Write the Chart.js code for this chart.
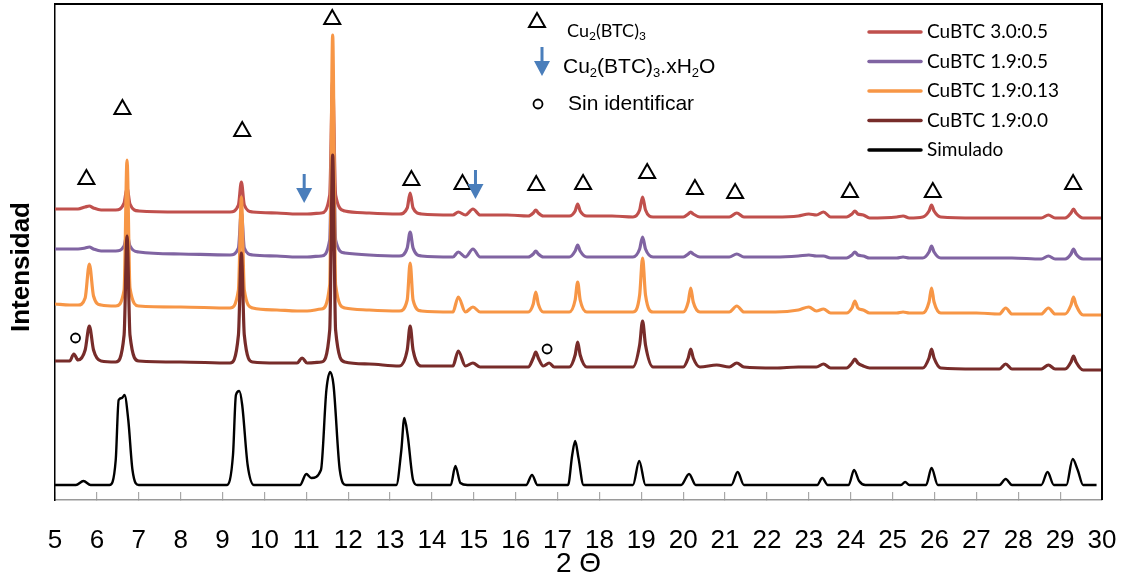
<!DOCTYPE html>
<html>
<head>
<meta charset="utf-8">
<script src="https://cdn.jsdelivr.net/npm/chart.js@4.4.0/dist/chart.umd.min.js"></script>
<style>
  html, body { margin: 0; padding: 0; background: #fff; }
</style>
</head>
<body>
<canvas id="xrd" width="1129" height="575"></canvas>
<script>
'use strict'

// 2 theta grid shared by the four measured patterns
const twoTheta = [
  5.0, 5.35, 5.45, 5.55, 5.72, 5.82, 5.92, 6.1,
  6.45, 6.65, 6.72, 6.79, 7.0, 8.0,
  9.18, 9.38, 9.45, 9.52, 9.72, 10.3,
  10.78, 10.9, 11.02,
  11.36, 11.56, 11.63, 11.7, 11.92, 12.5,
  13.22, 13.41, 13.48, 13.55, 13.75,
  14.5, 14.63, 14.8, 14.98, 15.15, 15.8,
  16.3, 16.42, 16.48, 16.54, 16.66, 16.8, 16.92,
  17.28, 17.42, 17.48, 17.54, 17.7, 18.3,
  18.8, 18.96, 19.03, 19.1, 19.28, 19.7,
  20.0, 20.12, 20.18, 20.24, 20.4, 20.8, 21.1, 21.28, 21.45,
  22.2, 22.75, 23.0, 23.18, 23.35, 23.52,
  23.9, 24.03, 24.1, 24.17, 24.3, 24.45,
  25.1, 25.25, 25.4, 25.72, 25.87, 25.93, 25.99, 26.15,
  27.0, 27.55, 27.7, 27.85,
  28.55, 28.72, 28.88, 29.12, 29.26, 29.32, 29.38, 29.55, 30.0
]
// intensities (arbitrary units, curves already offset)
const cubtc30_05 = [
  291, 291, 291, 291, 293, 294, 292, 290,
  290, 297, 312, 296, 289, 288,
  288, 295, 318, 295, 288, 287,
  286, 286, 286,
  287, 305, 420, 305, 289, 287,
  286, 292, 307, 292, 286,
  285, 288, 285, 291, 285, 285,
  284, 287, 290, 287, 284, 284, 284,
  284, 289, 296, 289, 284, 284,
  283, 290, 303, 290, 283, 283,
  283, 286, 288, 286, 283, 283, 283, 287, 283,
  283, 284, 286, 285, 288, 283,
  283, 286, 289, 286, 285, 282,
  283, 284, 282, 283, 289, 295, 289, 283,
  282, 282, 282, 282,
  282, 285, 282, 282, 287, 291, 287, 282, 282
]
const cubtc19_05 = [
  251, 251, 251, 251, 252, 253, 251, 249,
  249, 254, 266, 254, 248, 246,
  245, 252, 288, 252, 245, 244,
  243, 243, 243,
  244, 260, 400, 260, 247, 245,
  244, 252, 268, 252, 244,
  243, 248, 243, 251, 243, 243,
  243, 246, 249, 246, 243, 243, 243,
  243, 249, 255, 249, 243, 243,
  243, 251, 263, 251, 243, 243,
  243, 246, 248, 246, 243, 243, 243, 246, 243,
  243, 244, 245, 244, 244, 242,
  242, 245, 248, 245, 244, 242,
  242, 243, 242, 242, 248, 254, 248, 242,
  242, 242, 242, 242,
  241, 244, 241, 241, 246, 251, 246, 241, 241
]
const cubtc19_013 = [
  196, 195, 195, 195, 202, 236, 204, 195,
  194, 210, 340, 212, 194, 193,
  192, 210, 303, 210, 192, 190,
  189, 189, 189,
  191, 215, 465, 215, 192, 190,
  189, 200, 237, 200, 189,
  188, 203, 188, 193, 188, 188,
  188, 196, 208, 196, 188, 188, 188,
  188, 200, 218, 200, 188, 188,
  188, 205, 242, 205, 188, 188,
  188, 198, 212, 198, 188, 188, 188, 194, 188,
  188, 190, 193, 189, 191, 187,
  187, 192, 199, 192, 190, 187,
  187, 188, 187, 187, 198, 212, 198, 187,
  187, 186, 192, 186,
  186, 192, 186, 186, 195, 203, 195, 185, 185
]
const cubtc19_00 = [
  139, 139, 146, 140, 150, 174, 150, 139,
  138, 165, 264, 165, 139, 138,
  137, 165, 247, 165, 138, 137,
  137, 142, 137,
  138, 170, 345, 170, 138, 136,
  134, 150, 174, 150, 134,
  134, 149, 134, 137, 133, 133,
  133, 142, 148, 142, 134, 137, 133,
  133, 145, 158, 145, 133, 133,
  133, 155, 179, 155, 133, 133,
  133, 142, 151, 142, 133, 135, 133, 137, 133,
  132, 133, 133, 133, 136, 132,
  132, 137, 141, 137, 134, 132,
  132, 132, 132, 132, 142, 151, 142, 132,
  131, 131, 136, 131,
  131, 135, 131, 131, 138, 144, 138, 130, 130
]

// simulated pattern
const simTheta = [
  5.0, 5.5, 5.68, 5.85, 6.3, 6.45, 6.52, 6.6, 6.66, 6.75, 6.85, 7.0,
  9.1, 9.25, 9.32, 9.4, 9.47, 9.6, 9.75,
  10.85, 11.0, 11.12, 11.35, 11.48, 11.57, 11.65, 11.8, 11.95,
  13.15, 13.27, 13.34, 13.42, 13.55, 13.65,
  14.45, 14.56, 14.68, 14.85, 16.25, 16.39, 16.52,
  17.25, 17.35, 17.42, 17.5, 17.62, 18.8, 18.95, 19.1,
  19.95, 20.14, 20.3, 21.15, 21.3, 21.45,
  23.2, 23.32, 23.45, 23.95, 24.08, 24.2, 24.35,
  25.2, 25.3, 25.4, 25.8, 25.93, 26.08,
  27.55, 27.7, 27.85, 28.55, 28.7, 28.85,
  29.15, 29.3, 29.42, 29.55, 29.87
]
const simulado = [
  15, 15, 19, 15, 15, 40, 100, 102, 105, 80, 30, 15,
  15, 45, 105, 109, 95, 35, 15,
  15, 26, 22, 30, 110, 128, 115, 30, 15,
  15, 50, 82, 65, 20, 15,
  15, 34, 17, 15, 15, 25, 15,
  15, 45, 59, 42, 15, 15, 39, 15,
  15, 26, 15, 15, 28, 15,
  15, 22, 15, 15, 30, 19, 15,
  15, 18, 15, 15, 32, 15,
  15, 21, 15, 15, 28, 15,
  15, 41, 30, 15, 15
]

// phase markers
const triTheta = [5.75, 6.61, 9.47, 11.62, 13.51, 14.73, 16.49, 17.61, 19.14, 20.28, 21.24, 23.98, 25.96, 29.31]
const triLevel = [323, 393, 371, 483, 322, 318, 317, 318, 329, 313, 309, 310, 310, 318]
const arrowTheta = [10.95, 15.04]
const arrowLevel = [297, 301]
const circTheta = [5.49, 16.75]
const circLevel = [162, 151]

const xMin = 5
const xMax = 30

const toPoints = (xs, ys) => xs.map((x, i) => ({ x: x, y: ys[i] }))
const ARIAL = "'Liberation Sans', Arial, sans-serif"
const LATO = "Lato, 'Liberation Sans', sans-serif"
const BLUE = '#4A7EBB'

const triangle = (ctx, x, y) => {
  ctx.beginPath()
  ctx.moveTo(x, y - 7)
  ctx.lineTo(x + 8, y + 7)
  ctx.lineTo(x - 8, y + 7)
  ctx.closePath()
  ctx.stroke()
}
const arrow = (ctx, x, tipY) => {
  ctx.fillStyle = BLUE
  ctx.fillRect(x - 1.5, tipY - 29, 3, 15)
  ctx.beginPath()
  ctx.moveTo(x - 8, tipY - 15)
  ctx.lineTo(x + 8, tipY - 15)
  ctx.lineTo(x, tipY)
  ctx.closePath()
  ctx.fill()
}
const circle = (ctx, x, y) => {
  ctx.beginPath()
  ctx.arc(x, y, 4.5, 0, Math.PI * 2)
  ctx.stroke()
}
const richText = (ctx, parts, x, y, size, family) => {
  let cx = x
  for (const [txt, sub] of parts) {
    const s = sub ? Math.round(size * 0.64) : size
    ctx.font = `${s}px ${family}`
    ctx.fillText(txt, cx, sub ? y + size * 0.3 : y)
    cx += ctx.measureText(txt).width
  }
}

const decor = {
  id: 'decor',
  afterDatasetsDraw (chart) {
    const { ctx, chartArea: area, scales: { x, y } } = chart
    ctx.save()
    // frame top / right
    ctx.strokeStyle = '#000'
    ctx.lineWidth = 2
    ctx.beginPath()
    ctx.moveTo(area.left, area.top)
    ctx.lineTo(area.right, area.top)
    ctx.lineTo(area.right, area.bottom)
    ctx.stroke()

    // y axis title, sits a bit below the middle in the original
    ctx.save()
    ctx.translate(22, 267)
    ctx.rotate(-Math.PI / 2)
    ctx.fillStyle = '#000'
    ctx.font = `bold 26px ${ARIAL}`
    ctx.textAlign = 'center'
    ctx.textBaseline = 'middle'
    ctx.fillText('Intensidad', 0, 0)
    ctx.restore()

    ctx.lineWidth = 2
    ctx.lineJoin = 'miter'
    triTheta.forEach((t, i) => triangle(ctx, x.getPixelForValue(t), y.getPixelForValue(triLevel[i])))
    arrowTheta.forEach((t, i) => arrow(ctx, x.getPixelForValue(t), y.getPixelForValue(arrowLevel[i])))
    ctx.lineWidth = 1.8
    circTheta.forEach((t, i) => circle(ctx, x.getPixelForValue(t), y.getPixelForValue(circLevel[i])))

    // key for markers
    ctx.fillStyle = '#000'
    ctx.textBaseline = 'middle'
    ctx.lineWidth = 2
    triangle(ctx, 537, 20)
    richText(ctx, [['Cu', 0], ['2', 1], ['(BTC)', 0], ['3', 1]], 567, 31, 18, LATO)
    arrow(ctx, 542, 76)
    ctx.fillStyle = '#000'
    richText(ctx, [['Cu', 0], ['2', 1], ['(BTC)', 0], ['3', 1], ['.xH', 0], ['2', 1], ['O', 0]], 563, 67, 21, ARIAL)
    ctx.lineWidth = 1.8
    circle(ctx, 538, 104)
    ctx.font = `21px ${ARIAL}`
    ctx.fillText('Sin identificar', 568, 104)

    // series legend
    const rows = [0, 1, 2, 3, 4]
    rows.forEach((r) => {
      const ds = chart.data.datasets[r]
      const ly = 32 + r * 29.5
      ctx.strokeStyle = ds.borderColor
      ctx.lineWidth = 3.5
      ctx.lineCap = 'round'
      ctx.beginPath()
      ctx.moveTo(869, ly)
      ctx.lineTo(921, ly)
      ctx.stroke()
      ctx.fillStyle = '#000'
      ctx.font = `19px ${LATO}`
      ctx.fillText(ds.label, 927, ly)
    })
    ctx.restore()
  }
}

const line = (label, color, points, order, width) => ({
  label: label,
  data: points,
  borderColor: color,
  backgroundColor: color,
  borderWidth: width,
  pointRadius: 0,
  cubicInterpolationMode: 'monotone',
  order: order
})

new Chart(document.getElementById('xrd'), {
  type: 'line',
  data: {
    datasets: [
      line('CuBTC 3.0:0.5', '#C0504D', toPoints(twoTheta, cubtc30_05), 3, 3.2),
      line('CuBTC 1.9:0.5', '#8064A2', toPoints(twoTheta, cubtc19_05), 2, 3.2),
      line('CuBTC 1.9:0.13', '#F79646', toPoints(twoTheta, cubtc19_013), 1, 3.2),
      line('CuBTC 1.9:0.0', '#772C2A', toPoints(twoTheta, cubtc19_00), 0, 3.2),
      line('Simulado', '#000000', toPoints(simTheta, simulado), 4, 2.4)
    ]
  },
  options: {
    responsive: false,
    animation: false,
    devicePixelRatio: 1,
    layout: { padding: { top: 4, right: 27, left: 0, bottom: 0 } },
    plugins: { legend: { display: false }, tooltip: { enabled: false } },
    scales: {
      x: {
        type: 'linear',
        min: xMin,
        max: xMax,
        afterFit: (scale) => {
          scale.height = 75
          scale.paddingLeft = 0
          scale.paddingRight = 0
        },
        border: { color: '#9a9a9a', width: 1.5 },
        grid: { drawOnChartArea: false, drawTicks: true, tickLength: -8, color: '#a8a8a8', lineWidth: 1.2 },
        ticks: {
          stepSize: 1,
          autoSkip: false,
          maxRotation: 0,
          padding: 33,
          color: '#000',
          font: { family: ARIAL, size: 26 }
        },
        title: {
          display: true,
          text: '2 Θ',
          color: '#000',
          font: { family: ARIAL, size: 28, lineHeight: 0.8 },
          padding: { top: 0, bottom: 0 }
        }
      },
      y: {
        min: 0,
        max: 496,
        afterFit: (scale) => { scale.width = 55 },
        border: { color: '#000', width: 1.5 },
        grid: { display: false },
        ticks: { display: false },
        title: { display: false }
      }
    }
  },
  plugins: [decor]
})
</script>
</body>
</html>
